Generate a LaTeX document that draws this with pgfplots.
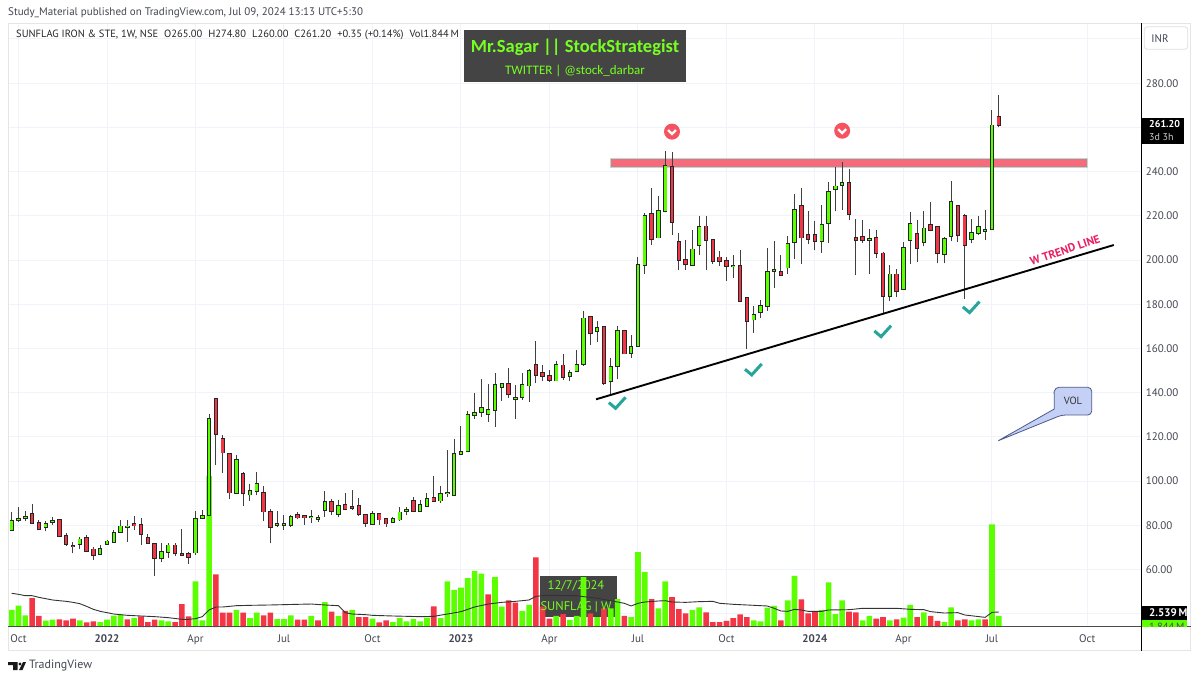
\documentclass[border=0pt]{standalone}
\usepackage{fontspec}
\setmainfont{PT Sans}
\newfontfamily\boxfont{Carlito}
\usepackage{pgfplots}
\usepackage{pgfplotstable}
\pgfplotsset{compat=1.18}
\definecolor{cG}{HTML}{5CFF00}
\definecolor{cR}{HTML}{F23645}
\definecolor{cGrid}{HTML}{F0F3FA}
\definecolor{cTxt}{HTML}{434651}
\definecolor{cTeal}{HTML}{26A69A}
\definecolor{cChev}{HTML}{F7525F}
\definecolor{cBand}{HTML}{F66B7B}
\definecolor{cBandE}{HTML}{A5E3D6}
\definecolor{cBox}{HTML}{444444}
\definecolor{cPink}{HTML}{E91E63}
\definecolor{cCall}{HTML}{C5D0F7}
\definecolor{cCallE}{HTML}{4A5A8A}
\definecolor{cWm}{HTML}{77FF22}
\pgfdeclareplotmark{chevmark}{%
 \pgfsetfillcolor{cChev}\pgfpathcircle{\pgfpointorigin}{8pt}\pgfusepath{fill}%
 \pgfsetstrokecolor{white}\pgfsetlinewidth{2.3pt}%
 \pgfpathmoveto{\pgfpoint{-4pt}{1.6pt}}\pgfpathlineto{\pgfpoint{0pt}{-2.4pt}}\pgfpathlineto{\pgfpoint{4pt}{1.6pt}}\pgfusepath{stroke}}
\pgfdeclareplotmark{checkmark}{%
 \pgfsetstrokecolor{cTeal}\pgfsetlinewidth{3pt}%
 \pgfpathmoveto{\pgfpoint{-8pt}{0.7pt}}\pgfpathlineto{\pgfpoint{-1.3pt}{-5pt}}\pgfpathlineto{\pgfpoint{8.7pt}{6pt}}\pgfusepath{stroke}}
\pgfdeclareplotmark{nomark}{}

\pgfplotstableread{
i t b h l
0 81.8 77.9 85.9 77.6
1 82.7 82.3 88.2 81.5
2 83.6 83.2 86.4 82.1
5 80.6 79.1 81.8 77.3
6 81.8 81.5 83.6 80.3
10 73.6 71.7 74.8 69.2
13 69.2 66.8 70.9 66.7
14 72.7 71.5 73.3 71.0
15 76.7 72.3 77.7 72.1
16 79.5 77.0 82.4 76.7
17 79.5 79.1 82.3 72.6
22 68.0 65.0 72.1 63.2
23 70.9 68.0 72.1 65.3
27 83.0 67.7 86.4 66.7
28 84.4 83.3 86.8 82.7
29 128.2 84.7 130.5 84.2
33 109.7 94.7 111.8 94.4
35 95.6 93.9 98.8 91.2
36 98.8 95.6 103.9 93.5
39 80.5 80.2 86.4 79.1
40 80.6 80.3 84.7 77.9
41 83.8 80.2 84.7 79.4
44 83.9 83.6 86.8 80.9
45 83.2 82.9 84.7 81.5
46 90.5 86.8 95.3 83.9
48 88.6 85.0 91.4 83.6
53 85.0 80.6 86.7 80.2
56 82.9 81.5 83.6 81.2
57 85.8 82.6 88.3 81.8
58 86.8 86.5 88.3 84.5
60 89.1 86.5 91.4 86.0
61 92.1 88.9 94.5 88.5
63 94.1 91.2 97.6 90.3
64 94.8 94.5 114.2 93.0
65 112.3 93.6 119.1 93.5
66 113.0 112.4 124.8 112.1
67 130.0 113.5 131.7 113.3
68 131.0 129.8 139.7 128.2
69 133.2 131.2 146.4 128.9
70 132.3 130.2 143.8 126.7
71 143.5 132.1 149.1 124.5
72 143.8 142.7 144.5 136.4
74 137.6 137.3 143.3 128.2
75 143.6 138.2 148.8 136.7
76 150.0 143.2 150.9 135.8
80 152.7 145.5 154.2 145.3
82 149.1 147.4 150.2 145.3
83 152.4 149.8 159.1 149.8
84 173.6 153.0 176.8 152.1
86 169.2 168.0 172.3 163.0
88 151.8 145.1 155.9 139.2
89 167.9 152.2 170.2 146.0
91 160.8 158.1 166.0 155.7
92 197.7 161.1 201.2 161.1
93 219.8 197.7 221.3 193.8
95 222.3 210.2 228.8 210.1
96 242.4 222.0 249.2 221.6
100 204.8 197.9 213.4 197.4
101 214.9 206.8 220.0 202.5
106 197.5 197.2 202.2 191.8
109 175.3 173.1 179.0 167.0
110 179.3 176.3 182.1 173.7
111 194.5 179.3 205.3 177.0
112 195.5 195.1 208.7 187.4
114 207.1 196.6 211.0 193.8
115 222.8 208.3 229.9 200.7
119 215.8 208.7 224.9 203.2
120 230.8 216.6 235.3 207.7
121 233.3 232.0 242.1 222.0
122 234.7 233.9 244.5 222.8
126 209.4 209.1 214.0 193.8
129 193.5 183.7 197.9 181.7
131 205.6 186.9 208.0 186.9
132 216.3 208.9 221.9 198.3
134 214.3 208.0 222.2 206.2
137 209.5 202.6 210.4 198.5
138 226.4 210.9 235.9 208.4
141 212.2 209.5 218.7 207.5
142 214.8 212.2 219.9 211.3
143 213.6 213.1 222.5 209.2
144 260.9 213.9 268.0 213.6
}\upc
\pgfplotstableread{
i t b h l
3 85.0 80.9 89.5 80.6
4 81.1 78.2 82.4 77.7
7 82.6 75.3 82.6 75.2
8 75.2 71.7 76.7 70.8
9 70.7 70.5 72.4 67.3
11 74.1 68.3 75.4 68.0
12 69.1 66.4 70.0 64.1
18 80.8 79.9 84.4 77.9
19 80.0 76.2 83.2 71.0
20 74.1 72.0 76.1 71.5
21 71.7 65.0 71.7 57.2
24 70.9 67.3 71.8 65.9
25 66.9 66.6 78.5 66.2
26 67.0 65.8 67.9 62.4
30 137.0 121.4 137.3 107.3
31 119.2 112.9 120.9 103.6
32 112.1 94.8 112.1 91.7
34 103.2 94.5 103.9 88.8
37 94.8 86.2 98.0 82.1
38 86.2 79.1 87.3 71.8
42 84.7 83.5 85.9 82.7
43 84.4 83.5 84.7 80.2
47 90.5 86.5 91.8 84.7
49 89.4 87.3 94.5 87.0
50 88.3 88.0 95.8 87.0
51 88.6 85.0 92.3 84.4
52 84.7 80.9 84.7 79.4
54 85.0 82.6 85.0 80.3
55 82.7 80.8 82.7 79.4
59 90.9 86.5 92.6 86.0
62 92.4 90.8 102.4 90.5
73 144.1 139.2 151.2 137.6
77 152.6 148.0 163.3 144.2
78 149.1 147.4 152.3 145.5
79 147.6 145.8 150.3 144.8
81 152.3 147.1 157.4 145.8
85 174.1 166.8 174.1 161.7
87 169.9 144.5 169.9 143.6
90 167.9 157.7 168.4 157.4
94 220.8 209.5 232.4 206.6
97 242.0 217.3 248.8 211.3
98 208.3 200.1 212.2 195.3
99 200.1 198.0 208.9 195.3
102 215.2 209.0 219.8 195.6
103 209.0 199.7 209.0 198.3
104 201.2 199.5 204.0 197.4
105 199.7 197.3 201.2 190.6
107 197.4 181.5 204.5 181.5
108 183.0 172.6 183.0 159.6
113 194.8 193.3 202.5 192.7
116 224.3 210.2 232.4 198.2
117 211.4 209.5 222.3 207.2
118 211.2 208.7 217.8 204.4
123 235.0 220.8 241.2 218.1
124 210.0 208.9 218.6 193.1
125 210.4 208.9 218.3 207.7
127 210.0 203.3 213.6 200.8
128 203.0 183.7 203.5 175.7
130 193.5 186.1 196.1 183.3
133 211.9 205.3 217.9 199.2
135 215.8 213.7 226.1 213.0
136 214.9 203.0 214.9 198.5
139 224.3 211.2 224.3 208.0
140 219.8 206.8 221.0 182.5
145 264.7 261.2 274.8 260.0
}\dnc
\pgfplotstableread{
i v
0 2.86
1 3.58
2 1.96
5 1.06
6 1.23
10 1.12
13 .84
14 1.23
15 1.90
16 2.13
18 1.51
22 1.12
23 .95
27 7.67
28 1.12
29 25.37
33 2.86
35 1.51
36 2.41
39 1.34
40 1.34
41 1.96
44 1.85
46 4.20
48 1.85
50 2.86
53 1.40
56 .84
57 1.51
58 .95
59 1.34
60 .95
61 1.57
63 1.51
64 7.67
65 6.22
66 6.61
67 8.23
68 9.41
69 8.96
71 8.40
72 3.42
75 2.69
76 3.70
80 1.85
82 1.18
83 1.85
84 8.40
86 1.68
88 3.14
89 4.70
91 1.68
92 12.60
93 9.24
95 3.14
96 7.67
100 2.86
101 3.30
109 1.12
110 .95
111 3.25
112 3.53
114 4.48
115 8.57
119 2.86
120 7.50
121 2.18
122 4.48
125 1.12
126 1.85
129 1.12
131 1.57
132 3.70
134 2.46
137 .84
138 3.30
141 1.12
142 1.29
144 17.25
145 1.85
}\volg
\pgfplotstableread{
i v
3 4.87
4 1.85
7 1.29
8 1.12
9 1.40
11 .78
12 .95
17 1.29
19 1.79
20 .84
21 1.23
24 .84
25 3.86
26 1.79
30 8.85
31 2.41
32 2.41
34 2.41
37 1.96
38 2.41
42 1.23
43 1.23
45 1.12
47 2.58
49 2.69
51 1.68
52 1.68
54 .78
55 1.12
62 3.47
70 5.49
73 4.48
74 4.09
77 11.70
78 3.42
79 1.40
81 2.18
85 2.30
87 3.14
90 1.85
94 4.70
97 5.04
98 3.02
99 2.30
102 2.46
103 .84
104 .84
105 1.01
106 1.51
107 2.13
108 1.68
113 1.12
116 4.65
117 2.30
118 2.52
123 2.58
124 2.46
127 1.40
128 1.68
130 1.29
133 1.68
135 1.85
136 1.01
139 1.12
140 1.29
143 1.29
}\volr
\pgfplotstableread{
i v
0 5.66
1 5.49
2 5.26
3 5.26
4 4.98
5 4.76
6 4.54
7 4.42
8 4.31
9 4.14
10 3.92
11 3.47
12 2.97
13 2.63
14 2.41
15 2.18
16 2.07
17 1.96
19 1.85
21 1.74
23 1.57
25 1.29
26 1.29
27 1.40
28 1.74
29 2.86
30 3.36
31 3.36
33 3.58
35 3.64
38 3.70
42 3.81
44 3.86
46 3.70
48 3.58
49 2.41
50 2.18
52 2.07
53 1.96
56 1.85
60 1.74
62 1.79
64 2.18
66 2.58
68 3.36
70 3.86
72 4.14
74 4.31
76 4.54
77 5.15
78 5.26
79 5.32
83 5.26
84 5.10
86 4.82
88 4.42
90 3.98
91 3.53
92 3.98
93 4.20
95 4.37
96 4.42
97 4.20
99 4.14
101 4.26
103 4.31
104 3.98
106 3.81
108 3.70
111 3.53
112 3.14
113 2.69
114 2.63
115 2.97
116 2.86
117 2.63
119 2.63
120 2.86
123 2.91
125 3.14
130 3.14
132 2.97
134 2.91
135 2.58
137 2.35
139 2.41
140 2.02
143 1.62
144 2.46
145 2.52
}\volma

\pgfplotsset{
 base/.style={at={(8.3pt,54pt)},anchor=south west,scale only axis,width=1133.4pt,height=603.7pt,
  xmin=-0.5,xmax=166},
 price/.style={base,ymin=34,ymax=307.1},
 wick/.style={only marks,mark=nomark,forget plot,error bars/.cd,y dir=plus,y explicit,error mark=none,
  error bar style={line width=1pt,color=black!75}},
 bodyk/.style={only marks,mark=nomark,forget plot,error bars/.cd,y dir=plus,y explicit,error mark=none,
  error bar style={line width=4.4pt,color=black!85}},
 bodyc/.style={only marks,mark=nomark,forget plot,error bars/.cd,y dir=plus,y explicit,error mark=none,
  error bar style={line width=2.6pt,color=#1}},
}
\begin{document}
\begin{tikzpicture}
\path[use as bounding box,fill=white] (0pt,0pt) rectangle (1200pt,681pt);
% grid, tick labels, band
\begin{axis}[price,
  axis line style={draw=none},tick style={draw=none},
  grid=major,grid style={cGrid,line width=1pt},
  xtick={1,14,27,40,53,66,79,92,105,118,131,144,158},
  xticklabels={Oct,\textbf{2022},Apr,Jul,Oct,\textbf{2023},Apr,Jul,Oct,\textbf{2024},Apr,Jul,Oct},
  xticklabel style={font=\fontsize{11}{12}\selectfont,text=cTxt,anchor=base,yshift=-15pt,inner sep=0pt},
  ytick={40,60,80,100,120,140,160,180,200,220,240,260,280,300},
  yticklabels={,60.00,80.00,100.00,120.00,140.00,160.00,180.00,200.00,220.00,240.00,260.00,280.00,},
  yticklabel pos=right,
  yticklabel style={font=\fontsize{11}{12}\selectfont,text=cTxt,anchor=west,inner sep=0pt,xshift=4pt},
]
\draw[fill=cBand,draw=cBandE,line width=0.5pt] (axis cs:88,245.9) rectangle (axis cs:158,242);
\fill[cBox] (axis cs:77.6,56.9) rectangle (axis cs:88.9,38.4);
\end{axis}
% volume
\begin{axis}[base,hide axis,ymin=0,ymax=101.42]
\addplot[ybar,bar width=5.6pt,bar shift=0pt,fill=cG,draw=none,forget plot] table[x=i,y=v] {\volg};
\addplot[ybar,bar width=5.6pt,bar shift=0pt,fill=cR,draw=none,forget plot] table[x=i,y=v] {\volr};
\addplot[black!80,line width=0.9pt,forget plot] table[x=i,y=v] {\volma};
\end{axis}
% candles and drawings on them
\begin{axis}[price,hide axis]
\addplot[wick] table[x=i,y=l,y error plus expr=\thisrow{h}-\thisrow{l}] {\upc};
\addplot[wick] table[x=i,y=l,y error plus expr=\thisrow{h}-\thisrow{l}] {\dnc};
\addplot[bodyk] table[x=i,y expr=\thisrow{b}-0.4,y error plus expr=\thisrow{t}-\thisrow{b}+0.8] {\upc};
\addplot[bodyk] table[x=i,y expr=\thisrow{b}-0.4,y error plus expr=\thisrow{t}-\thisrow{b}+0.8] {\dnc};
\addplot[bodyc=cG] table[x=i,y=b,y error plus expr=\thisrow{t}-\thisrow{b}] {\upc};
\addplot[bodyc=cR] table[x=i,y=b,y error plus expr=\thisrow{t}-\thisrow{b}] {\dnc};
\addplot[black,line width=1.9pt,forget plot] coordinates {(85.84,137) (161.9,206.8)};
\addplot[only marks,mark=chevmark,forget plot] coordinates {(97,258.1) (122,258.5)};
\addplot[only marks,mark=checkmark,forget plot] coordinates {(88.9,135.2) (108.9,150.3) (127.9,167.6) (140.9,178.5)};
\end{axis}
% page furniture, in reference pixels
\begin{scope}[x=1pt,y=-1pt,yshift=681pt]
\draw[black!10,line width=0.8pt] (8.3,23.3) rectangle (1190.7,650.7);
\draw[black!70,line width=1pt] (8.3,626.7) -- (1190.7,626.7);
\draw[black,line width=1pt] (1141.7,23.3) -- (1141.7,650.7);
\node[anchor=west,inner sep=0pt,text=cTxt,font=\fontsize{11}{13}\selectfont] at (8,13) {Study\_Material published on TradingView.com, Jul 09, 2024 13:13 UTC+5:30};
\node[anchor=west,inner sep=0pt,text=black!85,font=\fontsize{10.5}{13}\selectfont] at (16,35) {SUNFLAG IRON \& STE, 1W, NSE\hspace{6pt}O265.00\hspace{6pt}H274.80\hspace{6pt}L260.00\hspace{6pt}C261.20\hspace{6pt}+0.35 (+0.14\%)\hspace{6pt}Vol1.844\,M};
\fill[cBox] (464,30) rectangle (686,82);
\node[text=cWm,font=\boxfont\bfseries\fontsize{18.5}{20}\selectfont,inner sep=0pt] at (575,47) {Mr.Sagar || StockStrategist};
\node[text=cWm,font=\boxfont\fontsize{13}{14}\selectfont,inner sep=0pt] at (575,71) {TWITTER | @stock\_darbar};
\node[text=cWm,font=\fontsize{12.5}{14}\selectfont,inner sep=0pt] at (576,586) {12/7/2024};
\node[text=cWm,font=\fontsize{12.5}{14}\selectfont,inner sep=0pt] at (576,607) {SUNFLAG | W};
\node[rotate=18.6,text=cPink,font=\bfseries\fontsize{11.5}{12}\selectfont,inner sep=0pt] at (1065,250) {W TREND LINE};
% callout
\draw[fill=cCall,draw=cCallE,line width=0.8pt,rounded corners=0pt]
  (1061.7,415) -- (998.3,440.7) -- (1054.3,409) -- (1054.3,391) [rounded corners=4pt] -- (1055,387.3) -- (1091.7,387.3) -- (1091.7,415) -- cycle;
\node[text=black!80,font=\fontsize{10.5}{12}\selectfont,inner sep=0pt] at (1073,400.5) {VOL};
% scale boxes
\draw[black!12,fill=white,rounded corners=3pt,line width=0.8pt] (1144.3,26.7) rectangle (1187.7,49.3);
\node[text=cTxt,font=\fontsize{11}{12}\selectfont,inner sep=0pt] at (1160,38.5) {INR};
\fill[black] (1141.7,117.7) rectangle (1184,144.3);
\node[anchor=west,text=white,font=\bfseries\fontsize{10}{10}\selectfont,inner sep=0pt] at (1149,124.5) {261.20};
\node[anchor=west,text=black!20,font=\fontsize{10}{10}\selectfont,inner sep=0pt] at (1149,137.5) {3d 3h};
\fill[cG] (1141.7,620) rectangle (1187.3,626.7);
\begin{scope}
\clip (1141.7,620) rectangle (1187.3,626.2);
\node[anchor=west,text=black!70,font=\fontsize{10.5}{12}\selectfont,inner sep=0pt] at (1149,627) {1.844\,M};
\end{scope}
\fill[black] (1141.7,606) rectangle (1187.3,620);
\node[anchor=west,text=white,font=\bfseries\fontsize{11}{12}\selectfont,inner sep=0pt] at (1149,613) {2.539\,M};
% logo
\fill[black!90] (8,662) rectangle (17.5,665) (13,662) rectangle (17.5,670);
\fill[black!90] (20,664) circle (1.7);
\fill[black!90] (19,670) -- (23,662) -- (26,662) -- (22.5,670) -- cycle;
\node[anchor=west,text=cTxt,font=\fontsize{12}{14}\selectfont,inner sep=0pt] at (29,666) {TradingView};
\end{scope}
\end{tikzpicture}
\end{document}
